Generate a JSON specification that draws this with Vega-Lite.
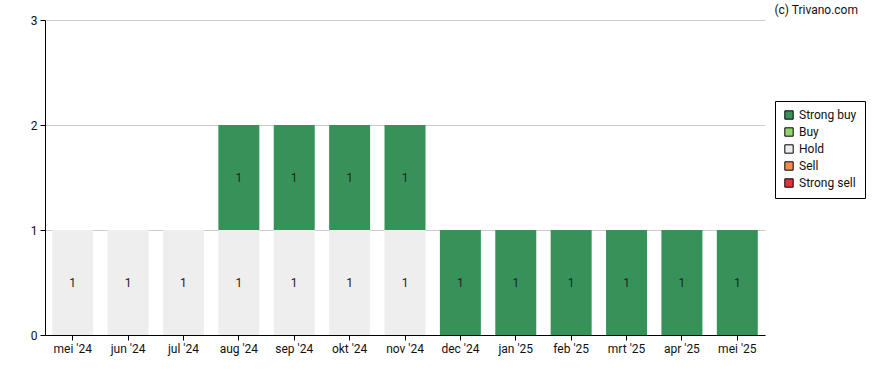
{
  "$schema": "https://vega.github.io/schema/vega-lite/v6.json",
  "width": 720,
  "height": 315,
  "autosize": {"type": "none"},
  "padding": {"left": 45, "top": 20, "right": 123, "bottom": 35},
  "background": "white",
  "title": {
    "text": "(c) Trivano.com",
    "anchor": "end",
    "frame": "group",
    "dx": 93,
    "dy": 9,
    "offset": 6,
    "fontSize": 12,
    "font": "Roboto",
    "fontWeight": "normal",
    "color": "#111"
  },
  "config": {
    "view": {"stroke": null},
    "font": "Roboto",
    "axis": {"labelFont": "Roboto", "labelFontSize": 12, "labelColor": "#111", "domainColor": "#000", "tickColor": "#000", "tickSize": 5, "title": null}
  },
  "data": {
    "values": [
      {"month": "mei '24", "rating": "Hold", "count": 1},
      {"month": "jun '24", "rating": "Hold", "count": 1},
      {"month": "jul '24", "rating": "Hold", "count": 1},
      {"month": "aug '24", "rating": "Hold", "count": 1},
      {"month": "aug '24", "rating": "Strong buy", "count": 1},
      {"month": "sep '24", "rating": "Hold", "count": 1},
      {"month": "sep '24", "rating": "Strong buy", "count": 1},
      {"month": "okt '24", "rating": "Hold", "count": 1},
      {"month": "okt '24", "rating": "Strong buy", "count": 1},
      {"month": "nov '24", "rating": "Hold", "count": 1},
      {"month": "nov '24", "rating": "Strong buy", "count": 1},
      {"month": "dec '24", "rating": "Strong buy", "count": 1},
      {"month": "jan '25", "rating": "Strong buy", "count": 1},
      {"month": "feb '25", "rating": "Strong buy", "count": 1},
      {"month": "mrt '25", "rating": "Strong buy", "count": 1},
      {"month": "apr '25", "rating": "Strong buy", "count": 1},
      {"month": "mei '25", "rating": "Strong buy", "count": 1}
    ]
  },
  "transform": [
    {"calculate": "indexof(['Strong sell','Sell','Hold','Buy','Strong buy'], datum.rating)", "as": "ord"},
    {"stack": "count", "groupby": ["month"], "sort": [{"field": "ord", "order": "ascending"}], "as": ["y0", "y1"]},
    {"calculate": "(datum.y0 + datum.y1) / 2", "as": "ymid"}
  ],
  "encoding": {
    "x": {
      "field": "month",
      "type": "nominal",
      "sort": null,
      "scale": {"paddingInner": 0.26, "paddingOuter": 0.13},
      "axis": {"labelAngle": 0, "labelPadding": 3}
    }
  },
  "layer": [
    {
      "mark": {"type": "bar"},
      "encoding": {
        "y": {
          "field": "y0",
          "type": "quantitative",
          "scale": {"domain": [0, 3], "nice": false},
          "axis": {"values": [0, 1, 2, 3], "format": "d", "grid": true, "gridColor": "#cccccc", "labelPadding": 3}
        },
        "y2": {"field": "y1"},
        "color": {
          "field": "rating",
          "type": "nominal",
          "scale": {
            "domain": ["Strong buy", "Buy", "Hold", "Sell", "Strong sell"],
            "range": ["#37925a", "#93d36f", "#eeeeee", "#f68c4e", "#e3313f"]
          },
          "legend": {
            "title": null,
            "orient": "none",
            "legendX": 730,
            "legendY": 81,
            "symbolType": "square",
            "symbolSize": 70,
            "symbolStrokeColor": "#000",
            "symbolStrokeWidth": 1,
            "symbolOpacity": 1,
            "labelFontSize": 12,
            "labelFont": "Roboto",
            "labelColor": "#111",
            "rowPadding": 3,
            "strokeColor": "#000",
            "padding": 8,
            "fillColor": "white"
          }
        }
      }
    },
    {
      "mark": {"type": "text", "fontSize": 12, "font": "Roboto", "color": "#222"},
      "encoding": {
        "y": {"field": "ymid", "type": "quantitative"},
        "text": {"field": "count", "type": "quantitative"}
      }
    }
  ]
}
